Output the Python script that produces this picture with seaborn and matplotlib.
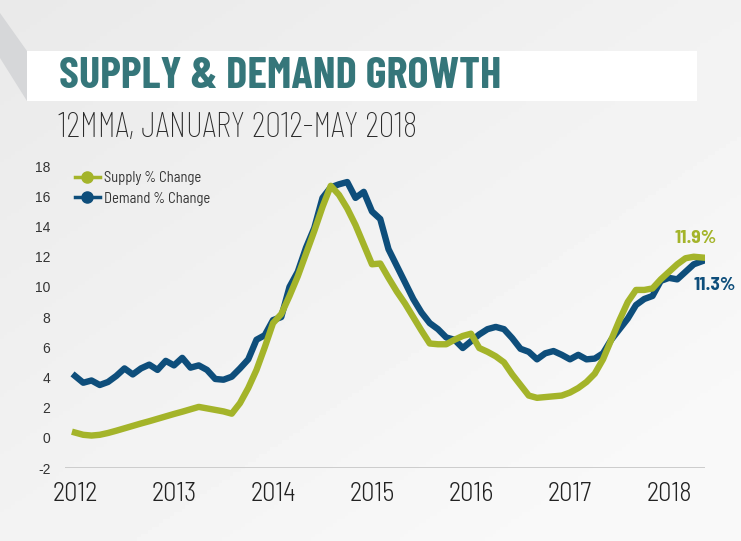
import numpy as np
import pandas as pd
import matplotlib.pyplot as plt
import seaborn as sns
from matplotlib.lines import Line2D
from matplotlib.patches import Rectangle, Polygon

# monthly values, Jan 2012 - May 2018 (12MMA % change)
months = pd.date_range("2012-01-01", "2018-05-01", freq="MS")

supply = [0.35, 0.2, 0.15, 0.2, 0.32, 0.47, 0.63, 0.79, 0.95, 1.1, 1.26, 1.42,
          1.58, 1.73, 1.89, 2.05, 1.95, 1.85, 1.75, 1.6, 2.3, 3.3, 4.5, 6.0,
          7.6, 8.2, 9.4, 10.7, 12.2, 13.7, 15.3, 16.7, 16.1, 15.2, 14.1, 12.8,
          11.5, 11.55, 10.6, 9.7, 8.9, 8.0, 7.1, 6.25, 6.2, 6.2, 6.5, 6.75,
          6.9, 5.95, 5.7, 5.4, 5.0, 4.2, 3.5, 2.8, 2.65, 2.7, 2.75, 2.8,
          3.0, 3.3, 3.7, 4.25, 5.2, 6.5, 7.8, 9.0, 9.8, 9.8, 9.9, 10.5,
          11.0, 11.5, 11.9, 12.0, 11.95]

demand = [4.1, 3.65, 3.8, 3.5, 3.7, 4.1, 4.6, 4.2, 4.6, 4.85, 4.5, 5.1,
          4.8, 5.3, 4.65, 4.8, 4.5, 3.9, 3.85, 4.05, 4.6, 5.2, 6.5, 6.8,
          7.8, 8.0, 10.0, 11.0, 12.6, 13.9, 15.9, 16.6, 16.8, 16.95, 15.9, 16.3,
          15.0, 14.5, 12.5, 11.4, 10.3, 9.2, 8.3, 7.6, 7.2, 6.65, 6.5, 5.95,
          6.4, 6.85, 7.2, 7.35, 7.2, 6.6, 5.9, 5.7, 5.2, 5.6, 5.75, 5.5,
          5.2, 5.5, 5.2, 5.25, 5.6, 6.5, 7.2, 7.9, 8.8, 9.2, 9.4, 10.4,
          10.6, 10.5, 11.0, 11.5, 11.7]

series_names = ["Supply % Change", "Demand % Change"]
end_labels = ["11.9%", "11.3%"]
year_ticks = [2012, 2013, 2014, 2015, 2016, 2017, 2018]
y_ticks = [-2, 0, 2, 4, 6, 8, 10, 12, 14, 16, 18]

green = "#a4b42a"
blue = "#0e4e7b"
teal = "#35767a"

cond = ["Barlow Condensed", "DejaVu Sans"]
semi = ["Barlow Semi Condensed", "DejaVu Sans"]

yrs = months.year + (months.month - 1) / 12
df = pd.concat([
    pd.DataFrame({"year": yrs, "value": supply, "series": series_names[0]}),
    pd.DataFrame({"year": yrs, "value": demand, "series": series_names[1]}),
])

W, H = 741, 541
fig = plt.figure(figsize=(W / 100, H / 100), dpi=100)

# background
bg = fig.add_axes([0, 0, 1, 1])
gx, gy = np.meshgrid(np.linspace(0, 1, 200), np.linspace(0, 1, 150))
grad = 0.915 + 0.06 * np.clip(0.55 * gx + 0.6 * gy, 0, 1)
bg.imshow(grad, cmap="gray", vmin=0, vmax=1, extent=[0, W, H, 0], aspect="auto")
bg.add_patch(Polygon([(0, 13), (27, 51), (27, 101), (0, 58)], color="#d6d7d9", lw=0))
bg.add_patch(Rectangle((27, 51), 670, 50, color="white", lw=0))
bg.set_xlim(0, W)
bg.set_ylim(H, 0)
bg.axis("off")

bg.text(59, 77, "SUPPLY & DEMAND GROWTH", family=cond, fontweight=700,
        fontsize=32, color=teal, va="center", ha="left")
bg.text(58, 128, "12MMA, JANUARY 2012-MAY 2018", family=cond, fontweight=250,
        fontsize=25.5, color="#2a2a2a", va="center", ha="left")

# chart
ax = fig.add_axes([65 / W, 1 - 468 / H, 640 / W, 309.35 / H])
ax.patch.set_alpha(0)
sns.lineplot(data=df, x="year", y="value", hue="series",
             palette={series_names[0]: green, series_names[1]: blue},
             hue_order=[series_names[1], series_names[0]],
             linewidth=4.6, legend=False, ax=ax)
# supply drawn on top
for ln in ax.get_lines():
    if ln.get_color() == green:
        ln.set_zorder(3)

ax.set_xlim(2012 - 10 / 99, 2012 + 630 / 99)
ax.set_ylim(-2, 18.5)
ax.axhline(-2, color="#c9c9c9", lw=1.3, zorder=1)
for s in ax.spines.values():
    s.set_visible(False)
ax.set_xticks(year_ticks)
ax.set_xticklabels([str(y) for y in year_ticks], family=semi, fontweight=300,
                   fontsize=19, color="#222222")
ax.set_yticks(y_ticks)
ax.set_yticklabels([str(v) for v in y_ticks], family=["Liberation Sans", "DejaVu Sans"],
                   fontsize=10, color="#333333")
ax.tick_params(axis="x", length=0, pad=10)
ax.tick_params(axis="y", length=0, pad=10.5)
ax.set_xlabel("")
ax.set_ylabel("")

# end labels
ax.annotate(end_labels[0], (yrs[-1], supply[-1]), xytext=(-6, 19),
            textcoords="offset pixels", ha="center", va="center",
            fontsize=14, fontweight="bold", color=green, family=semi)
ax.annotate(end_labels[1], (yrs[-1], demand[-1]), xytext=(13, -24),
            textcoords="offset pixels", ha="center", va="center",
            fontsize=14, fontweight="bold", color=blue, family=semi)

handles = [Line2D([], [], color=green, lw=2.5, marker="o", markersize=8),
           Line2D([], [], color=blue, lw=2.5, marker="o", markersize=8)]
fig.legend(handles, series_names, loc="upper left",
           bbox_to_anchor=(75 / W, 1 - 171 / H), bbox_transform=fig.transFigure,
           frameon=False, borderpad=0, borderaxespad=0, handlelength=1.7,
           handletextpad=0.3, labelspacing=0.45,
           prop={"family": semi, "size": 10.5}, labelcolor="#333333")

fig.savefig("out.png", dpi=100)
